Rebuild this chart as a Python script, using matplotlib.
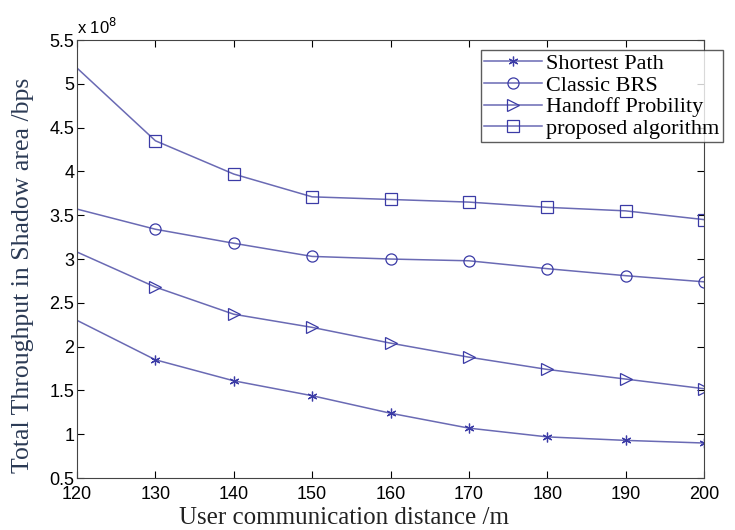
import matplotlib.pyplot as plt
import numpy as np

# === DATA ===
distance = [120, 130, 140, 150, 160, 170, 180, 190, 200]
shortest_path = [2.30, 1.85, 1.61, 1.44, 1.24, 1.07, 0.97, 0.93, 0.90]
classic_brs = [3.57, 3.34, 3.18, 3.03, 3.00, 2.98, 2.89, 2.81, 2.74]
handoff_prob = [3.08, 2.68, 2.37, 2.22, 2.04, 1.88, 1.74, 1.63, 1.52]
proposed = [5.18, 4.35, 3.97, 3.71, 3.68, 3.65, 3.59, 3.55, 3.45]

labels = ["Shortest Path", "Classic BRS", "Handoff Probility", "proposed algorithm"]
series = [shortest_path, classic_brs, handoff_prob, proposed]
markers = [(6, 2, 0), "o", ">", "s"]

LINE_COLOR = "#6a6ab4"
MARK_COLOR = "#3b3ba6"

fig = plt.figure(figsize=(7.35, 5.3), dpi=100)
ax = fig.add_axes([0.1048, 0.098, 0.853, 0.8265])

for vals, lab, m in zip(series, labels, markers):
    ax.plot(distance, vals, color=LINE_COLOR, linewidth=1.1, marker=m,
            markersize=8 if m != markers[0] else 7, markerfacecolor="none",
            markeredgecolor=MARK_COLOR, markeredgewidth=0.9,
            markevery=slice(1, None), label=lab)

ax.set_xlim(120, 200)
ax.set_ylim(0.5, 5.5)
ax.set_xticks(np.arange(120, 201, 10))
ax.set_yticks(np.arange(0.5, 5.51, 0.5))
ax.set_yticklabels(["0.5", "1", "1.5", "2", "2.5", "3", "3.5", "4", "4.5", "5", "5.5"])
ax.tick_params(direction="in", top=True, right=True, length=5,
               labelsize=13, pad=2)
ax.tick_params(axis="x", pad=6)
for lbl in ax.get_xticklabels() + ax.get_yticklabels():
    lbl.set_family("Liberation Sans")
for s in ax.spines.values():
    s.set_color("#444444")

ax.text(0.0, 1.008, r"x 10$^8$", transform=ax.transAxes, fontsize=12,
        family="Liberation Sans", va="bottom", ha="left")

ax.set_xlabel("User communication distance /m", family="Liberation Serif",
              fontsize=18, color="#222222")
ax.xaxis.set_label_coords(0.426, -0.065)
ax.set_ylabel("Total Throughput in Shadow area /bps", family="Liberation Serif",
              fontsize=18.5, color="#2b3a55")
ax.yaxis.set_label_coords(-0.068, 0.463)

leg = ax.legend(loc="upper left", bbox_to_anchor=(0.644, 0.977),
                prop={"family": "Liberation Serif", "size": 16},
                frameon=True, fancybox=False, edgecolor="#333333",
                borderpad=0.15, labelspacing=0.05, handlelength=2.6,
                handletextpad=0.2, borderaxespad=0.0)
leg.get_frame().set_linewidth(1.0)

fig.savefig("out.png", dpi=100)
